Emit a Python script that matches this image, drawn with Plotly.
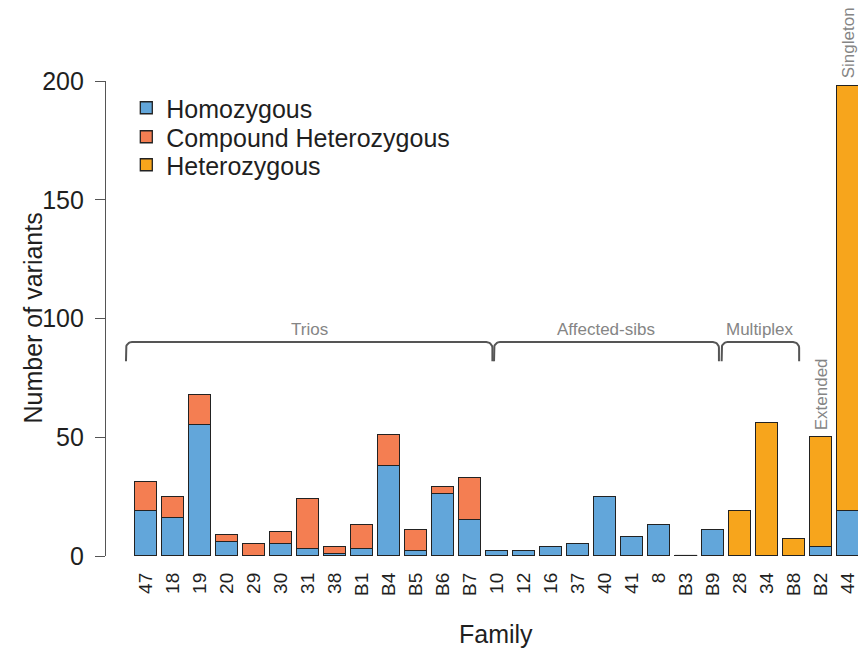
import numpy as np
import plotly.graph_objects as go

# Families in plotting order
families = ["47", "18", "19", "20", "29", "30", "31", "38", "B1", "B4", "B5", "B6", "B7",
            "10", "12", "16", "37", "40", "41", "8", "B3", "B9",
            "28", "34", "B8", "B2", "44"]

# Variant counts per family
homozygous = [19, 16, 55, 6, 0, 5, 3, 1, 3, 38, 2, 26, 15,
              2, 2, 4, 5, 25, 8, 13, 0, 11,
              0, 0, 0, 4, 19]
compound_het = [12, 9, 13, 3, 5, 5, 21, 3, 10, 13, 9, 3, 18,
                0, 0, 0, 0, 0, 0, 0, 0, 0,
                0, 0, 0, 0, 0]
heterozygous = [0, 0, 0, 0, 0, 0, 0, 0, 0, 0, 0, 0, 0,
                0, 0, 0, 0, 0, 0, 0, 0, 0,
                19, 56, 7, 46, 179]

series_names = ["Homozygous", "Compound Heterozygous", "Heterozygous"]
series_colors = ["#62A6DA", "#F47E52", "#F7A51C"]

# Study designs: bracketed groups (label, left, right in bar units)
bracket_groups = [("Trios", -0.74, 12.83),
                  ("Affected-sibs", 12.89, 21.22),
                  ("Multiplex", 21.32, 24.19)]
# Single-family designs labelled above their bar
single_labels = [("Extended", "B2"), ("Singleton", "44")]

W, H = 858, 649
M_L, M_R, M_T, M_B = 106, 0, 81, 93
PLOT_W, PLOT_H = W - M_L - M_R, H - M_T - M_B
X_RANGE = [-1.48, 26.37]
Y_RANGE = [0, 200]
BAR_WIDTH = 1 / 1.2

FONT = "Liberation Sans, Arial, Helvetica, sans-serif"
INK = "#1f1f1f"
GREY = "#858585"

# One legend box per series so the rows sit close together
LEGEND_ROWS_PX = [108, 137, 165]
legend_ids = ["legend", "legend2", "legend3"]

xpos = np.arange(len(families))
totals = np.array(homozygous) + np.array(compound_het) + np.array(heterozygous)

fig = go.Figure()
for name, vals, col, lg in zip(series_names, [homozygous, compound_het, heterozygous],
                               series_colors, legend_ids):
    fig.add_trace(go.Bar(
        x=xpos, y=vals, name=name, width=BAR_WIDTH, legend=lg,
        marker=dict(color=col, line=dict(color="#222222", width=1.3)),
    ))

# Families without any variant still show the bar outline as a flat line
for i in np.where(totals == 0)[0]:
    fig.add_trace(go.Scatter(
        x=[i - BAR_WIDTH / 2, i + BAR_WIDTH / 2], y=[0, 0], mode="lines",
        line=dict(color="#222222", width=2.2), showlegend=False, hoverinfo="skip",
    ))

# Brackets grouping the study designs
px_per_x = PLOT_W / (X_RANGE[1] - X_RANGE[0])
px_per_y = PLOT_H / (Y_RANGE[1] - Y_RANGE[0])
br_top, br_bot, radius = 90.1, 82.0, 6.0
rx, ry = radius / px_per_x, radius / px_per_y
theta = np.linspace(0, np.pi / 2, 10)
for label, x0, x1 in bracket_groups:
    bx = np.concatenate([[x0], x0 + rx - rx * np.cos(theta),
                         x1 - rx + rx * np.sin(theta), [x1]])
    by = np.concatenate([[br_bot], br_top - ry + ry * np.sin(theta),
                         br_top - ry + ry * np.cos(theta), [br_bot]])
    fig.add_trace(go.Scatter(
        x=bx, y=by, mode="lines", line=dict(color="#555555", width=2),
        showlegend=False, hoverinfo="skip",
    ))
    fig.add_annotation(
        x=(x0 + x1) / 2, y=br_top, text=label, showarrow=False,
        xanchor="center", yanchor="bottom", yshift=1,
        font=dict(family=FONT, size=17, color=GREY),
    )

for label, fam in single_labels:
    i = families.index(fam)
    fig.add_annotation(
        x=i, y=totals[i], text=label, showarrow=False, textangle=-90,
        xanchor="center", yanchor="bottom", yshift=5,
        font=dict(family=FONT, size=17, color=GREY),
    )

# Axis titles
fig.add_annotation(
    xref="paper", yref="paper", x=(32 - M_L) / PLOT_W, y=0.5,
    text="Number of variants", textangle=-90, showarrow=False,
    xanchor="center", yanchor="middle",
    font=dict(family=FONT, size=25, color=INK),
)
fig.add_annotation(
    xref="paper", yref="paper", x=0.518, y=-(634 - (H - M_B)) / PLOT_H,
    text="Family", showarrow=False, xanchor="center", yanchor="middle",
    font=dict(family=FONT, size=25, color=INK),
)

legend_layout = {}
for lg, row in zip(legend_ids, LEGEND_ROWS_PX):
    legend_layout[lg] = dict(
        x=0.027, y=1 - (row - M_T) / PLOT_H, xanchor="left", yanchor="middle",
        bgcolor="rgba(0,0,0,0)",
        font=dict(family=FONT, size=25, color=INK),
        itemclick=False, itemdoubleclick=False,
    )

fig.update_layout(
    width=W, height=H,
    margin=dict(l=M_L, r=M_R, t=M_T, b=M_B, pad=0),
    barmode="stack", bargap=0,
    plot_bgcolor="white", paper_bgcolor="white",
    font=dict(family=FONT, color=INK),
    showlegend=True,
    **legend_layout,
    xaxis=dict(
        range=X_RANGE, tickmode="array", tickvals=xpos, ticktext=families,
        tickangle=-90, showline=False, showgrid=False, zeroline=False,
        ticks="", ticklabelstandoff=12, ticklabeloverflow="allow",
        tickfont=dict(family=FONT, size=19, color=INK),
    ),
    yaxis=dict(
        range=Y_RANGE, tickmode="array", tickvals=[0, 50, 100, 150, 200],
        showline=True, linecolor="#555555", linewidth=1.3,
        ticks="outside", ticklen=10, tickcolor="#555555", tickwidth=1.3,
        showgrid=False, zeroline=False, ticklabelstandoff=6,
        tickfont=dict(family=FONT, size=25, color=INK),
    ),
)

fig.write_html("out.html")
